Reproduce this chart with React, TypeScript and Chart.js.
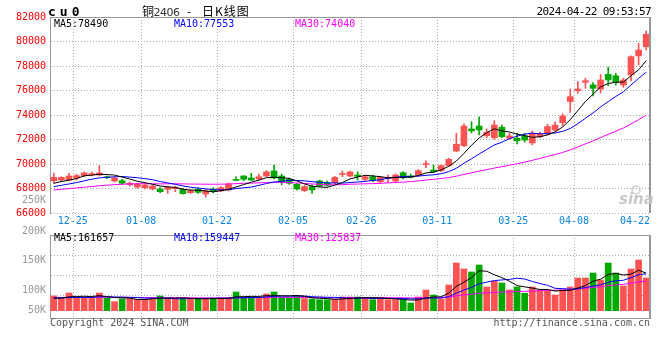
import React, { useEffect, useRef } from 'react';
import { Chart, registerables } from 'chart.js';

Chart.register(...registerables);

// ---- data ----
const dates = ['12-21','12-22','12-25','12-26','12-27','12-28','12-29','01-02','01-03','01-04','01-05','01-08','01-09','01-10','01-11','01-12','01-15','01-16','01-17','01-18','01-19','01-22','01-23','01-24','01-25','01-26','01-29','01-30','01-31','02-01','02-02','02-05','02-06','02-07','02-08','02-19','02-20','02-21','02-22','02-23','02-26','02-27','02-28','02-29','03-01','03-04','03-05','03-06','03-07','03-08','03-11','03-12','03-13','03-14','03-15','03-18','03-19','03-20','03-21','03-22','03-25','03-26','03-27','03-28','03-29','04-01','04-02','04-03','04-08','04-09','04-10','04-11','04-12','04-15','04-16','04-17','04-18','04-19','04-22'];

const opens = [68640,68690,68690,68860,69050,69100,69100,68960,68610,68640,
  68310,68120,68070,67960,67960,67930,67990,67930,67660,67930,
  67550,67960,67800,67880,68710,69020,68860,68780,69020,69430,
  69020,68750,68340,67820,68150,68610,68470,68470,69150,69020,
  69100,68750,68960,68560,68800,68610,69290,69020,69100,69950,
  69510,69460,69870,71060,71500,72860,73100,72310,72150,73000,
  72100,72100,72290,71720,72230,72450,72770,73370,75100,75980,
  76670,76450,76120,77320,77200,76450,77270,78820,79570];

const highs = [69240,68960,69240,69160,69350,69350,69870,69020,68960,68750,
  68530,68450,68430,68290,68070,68200,68200,68010,67930,68050,
  67950,68070,68150,68450,68960,69050,69240,69180,69460,69920,
  69180,68860,68430,68290,68290,68690,68610,69000,69430,69430,
  69370,69050,69100,69000,69100,69190,69370,69180,69550,70250,
  69920,69920,70460,72500,73270,73450,73860,72860,73530,73180,
  72510,72500,72510,72700,72600,73240,73450,74100,76120,76720,
  77000,76640,77300,77900,77400,77000,78840,79850,80860];

const lows = [68420,68560,68640,68690,68960,69020,69020,68800,68530,68340,
  68200,68020,67960,67880,67660,67600,67740,67530,67600,67600,
  67280,67660,67740,67800,68640,68640,68640,68690,68960,68780,
  68290,68340,67880,67740,67590,68150,68200,68400,68960,68960,
  68690,68640,68550,68420,68470,68470,68780,68860,69000,69700,
  69290,69370,69790,71000,71420,72540,72370,72150,72010,72150,
  72000,71630,71800,71560,72150,72370,72700,73100,74220,75770,
  76180,75550,75800,76390,76450,76260,76800,78080,79300];

const closes = [68910,68910,69020,69050,69270,69210,69270,68880,68860,68430,
  68430,68370,68290,68200,67740,68100,68100,67580,67820,67690,
  67800,67740,68070,68370,68660,68750,68690,68960,69350,68860,
  68510,68430,67960,68150,67880,68200,68260,68910,69180,69350,
  68990,68960,68640,68900,68910,69100,68910,68910,69460,69980,
  69370,69870,70380,71610,73100,72700,72780,72590,73180,72230,
  72290,71900,71960,72510,72450,73050,73180,73920,75500,76120,
  76800,76180,76860,76860,76670,76860,78760,79300,80590];

const volumes = [63400,56000,76300,57600,57600,57600,76300,53400,38900,50400,
  51900,48900,48900,57600,63400,51900,50400,53400,48900,51900,
  54000,53400,54800,54800,80600,59100,59100,53400,72000,80600,
  57600,54800,63400,51900,50400,47400,47400,48900,59100,59100,
  59100,54800,47400,56000,47400,47400,44800,33200,59100,89200,
  67700,50400,110800,205600,179800,166800,197000,102200,128000,119400,
  89200,102200,75000,102200,89200,89200,67700,89200,102200,141000,
  141000,162500,132300,205600,162500,106500,179800,218600,141000];

// sessions before the visible window (estimated from where the MA lines start)
const priorCloses = [67300,67250,67400,67550,67500,67380,67480,67600,67520,67650,
  67900,68100,68250,68150,67950,67850,68000,68120,67980,67970,
  67800,67950,67900,67850,67875,68200,68400,68450,68165];
const priorVolumes = [55000,60000,62000,58000,54000,57000,63000,59000,56000,52000,
  60000,58000,61000,57000,55000,59000,62000,56000,58000,60000,
  58000,55000,57000,54000,56500,50000,52000,49000,53100];

const dateTicks = ['12-25','01-08','01-22','02-05','02-26','03-11','03-25','04-08','04-22'];
const priceTickValues = [66000,68000,70000,72000,74000,76000,78000,80000,82000];
const volTickLabels = ['250K','200K','150K','100K','50K'];
const maPeriods = [5, 10, 30];
const maPriceValues = [78490, 77553, 74040];
const maVolValues = [161657, 159447, 125837];
const volGridValues = [64700, 150900, 237100];
const titleParts = ['铜', '2406', '-', '日K线图'];

// ---- styles ----
const UP = '#ff5252';
const DOWN = '#00a800';
const MA_COLORS = ['#000000', '#0000ff', '#ff00ff'];
const GRID = '#aaaaaa';
const FRAME = '#999999';
const MONO = '"DejaVu Sans Mono", monospace';
const CJK = '"Noto Sans CJK SC", sans-serif';

function movingAverage(series: number[], prior: number[], n: number): number[] {
  const all = prior.concat(series);
  return series.map((_, i) => {
    const end = prior.length + i;
    let s = 0;
    for (let j = end - n + 1; j <= end; j++) s += all[j];
    return Math.round(s / n);
  });
}

const candleColors = closes.map((c, i) => (c >= opens[i] ? UP : DOWN));

function text(ctx: CanvasRenderingContext2D, s: string, x: number, y: number, color: string, font: string, align: CanvasTextAlign = 'left', baseline: CanvasTextBaseline = 'middle', spacing = '0px') {
  ctx.save();
  ctx.font = font;
  ctx.fillStyle = color;
  ctx.textAlign = align;
  ctx.textBaseline = baseline;
  (ctx as any).letterSpacing = spacing;
  ctx.fillText(s, x, y);
  ctx.restore();
}

function dateLinePixels(chart: any): { label: string; x: number }[] {
  const a = chart.chartArea;
  const xs = chart.scales.x;
  const slot = (a.right - a.left) / dates.length;
  return dateTicks.map((d) => ({ label: d, x: xs.getPixelForValue(dates.indexOf(d)) + slot / 2 }));
}

function drawDateGrid(chart: any) {
  const { ctx, chartArea: a } = chart;
  ctx.save();
  ctx.strokeStyle = GRID;
  ctx.lineWidth = 1;
  ctx.setLineDash([1, 2]);
  dateLinePixels(chart).forEach(({ x }) => {
    if (x > a.right - 2) return;
    const px = Math.round(x) + 0.5;
    ctx.beginPath();
    ctx.moveTo(px, a.top);
    ctx.lineTo(px, a.bottom);
    ctx.stroke();
  });
  ctx.restore();
}

const pricePlugin = {
  id: 'priceDecor',
  beforeDatasetsDraw(chart: any) {
    drawDateGrid(chart);
  },
  afterDraw(chart: any) {
    const { ctx, chartArea: a } = chart;
    ctx.save();
    ctx.fillStyle = FRAME;
    ctx.fillRect(a.left, Math.round(a.top), a.right - a.left + 1, 1);
    ctx.fillRect(Math.round(a.right) - 1, Math.round(a.top), 2, a.bottom - a.top);
    ctx.restore();

    // header
    text(ctx, 'cu0', 48, 16, '#000', `bold 13px ${MONO}`, 'left', 'alphabetic', '4px');
    text(ctx, titleParts[0], 142, 15.5, '#000', `12px ${CJK}`, 'left', 'alphabetic');
    text(ctx, titleParts[1], 153.5, 15.5, '#333', `11px "DejaVu Sans"`, 'left', 'alphabetic', '-0.5px');
    text(ctx, titleParts[2], 187, 15.5, '#000', `12px ${CJK}`, 'left', 'alphabetic');
    text(ctx, titleParts[3], 202, 15.5, '#000', `12px ${CJK}`, 'left', 'alphabetic', '1px');
    text(ctx, '2024-04-22 09:53:57', 651, 15, '#000', `11px ${MONO}`, 'right', 'alphabetic', '-0.6px');

    // MA labels
    const maX = [54, 174, 295];
    maPeriods.forEach((p, i) => text(ctx, `MA${p}:${maPriceValues[i]}`, maX[i], 24.5, MA_COLORS[i], `10px ${MONO}`));

    // stray volume label from the source
    text(ctx, volTickLabels[0], 46, 200, '#999', `10px ${MONO}`, 'right');

    // date labels
    ctx.save();
    ctx.font = `10px ${MONO}`;
    dateLinePixels(chart).forEach(({ label, x }) => {
      const w = ctx.measureText(label).width;
      let cx = x;
      if (cx + w / 2 > a.right) cx = a.right - w / 2;
      text(ctx, label, cx, 221, '#0a84e0', `10px ${MONO}`, 'center');
    });
    ctx.restore();

    // watermark
    ctx.save();
    ctx.strokeStyle = 'rgba(200,200,200,0.9)';
    ctx.lineWidth = 1.5;
    ctx.beginPath();
    ctx.arc(636, 190, 4, 0, Math.PI * 2);
    ctx.stroke();
    ctx.restore();
    text(ctx, 'sina', 619, 204, 'rgba(195,195,195,0.9)', 'italic bold 15px "DejaVu Sans"', 'left', 'alphabetic');
  },
};

const volPlugin = {
  id: 'volDecor',
  beforeDatasetsDraw(chart: any) {
    drawDateGrid(chart);
  },
  afterDraw(chart: any) {
    const { ctx, chartArea: a } = chart;
    ctx.save();
    ctx.fillStyle = FRAME;
    ctx.fillRect(a.left, Math.round(a.top), a.right - a.left + 1, 1);
    ctx.fillRect(a.left, Math.round(a.bottom), a.right - a.left + 1, 1);
    ctx.fillRect(Math.round(a.right) - 1, Math.round(a.top), 2, a.bottom - a.top);
    ctx.restore();

    const labelY = [5, 34.5, 64.8, 84.5];
    volTickLabels.slice(1).forEach((l, i) => text(ctx, l, 46, labelY[i], '#999', `10px ${MONO}`, 'right'));

    const maX = [54, 174, 295];
    maPeriods.forEach((p, i) => text(ctx, `MA${p}:${maVolValues[i]}`, maX[i], 12, MA_COLORS[i], `10px ${MONO}`));

    text(ctx, 'Copyright 2024 SINA.COM', 50, 97.5, '#555', `10px ${MONO}`);
    text(ctx, 'http://finance.sina.com.cn', 650, 97.7, '#555', `10px ${MONO}`, 'right');
  },
};

export default function App() {
  const priceRef = useRef<HTMLCanvasElement>(null);
  const volRef = useRef<HTMLCanvasElement>(null);

  useEffect(() => {
    const maLines = (series: number[], prior: number[]) =>
      maPeriods.map((p, i) => ({
        type: 'line' as const,
        label: `MA${p}`,
        data: movingAverage(series, prior, p),
        borderColor: MA_COLORS[i],
        borderWidth: 1,
        pointRadius: 0,
        tension: 0,
        order: 0,
      }));

    const priceChart = new Chart(priceRef.current as HTMLCanvasElement, {
      type: 'bar',
      data: {
        labels: dates,
        datasets: [
          ...maLines(closes, priorCloses),
          {
            type: 'bar',
            label: 'wick',
            data: lows.map((l, i) => [l, highs[i]]),
            backgroundColor: candleColors,
            barThickness: 1,
            grouped: false,
            order: 2,
          } as any,
          {
            type: 'bar',
            label: 'body',
            data: opens.map((o, i) => [o, closes[i]]),
            backgroundColor: candleColors,
            barThickness: 6,
            minBarLength: 1,
            grouped: false,
            order: 1,
          } as any,
        ],
      },
      options: {
        animation: false,
        responsive: false,
        devicePixelRatio: 1,
        events: [],
        layout: { padding: { left: 0, right: 10, top: 17, bottom: 13 } },
        plugins: { legend: { display: false }, tooltip: { enabled: false } },
        scales: {
          x: { display: false, offset: true },
          y: {
            min: 66000,
            max: 82000,
            afterBuildTicks: (scale: any) => {
              scale.ticks = priceTickValues.map((v) => ({ value: v }));
            },
            afterFit: (scale: any) => {
              scale.width = 50;
            },
            ticks: {
              color: '#ff0000',
              font: { family: 'DejaVu Sans Mono', size: 10 },
              padding: 4,
              callback: (v: any) => String(v),
            },
            grid: { color: GRID, drawTicks: false },
            border: { display: true, color: FRAME, width: 1, dash: [1, 2] },
          },
        },
      } as any,
      plugins: [pricePlugin],
    });

    const volChart = new Chart(volRef.current as HTMLCanvasElement, {
      type: 'bar',
      data: {
        labels: dates,
        datasets: [
          ...maLines(volumes, priorVolumes),
          {
            type: 'bar',
            label: 'volume',
            data: volumes,
            backgroundColor: candleColors,
            barThickness: 6,
            order: 1,
          } as any,
        ],
      },
      options: {
        animation: false,
        responsive: false,
        devicePixelRatio: 1,
        events: [],
        layout: { padding: { left: 0, right: 10, top: 9, bottom: 42 } },
        plugins: { legend: { display: false }, tooltip: { enabled: false } },
        scales: {
          x: { display: false, offset: true },
          y: {
            min: -31500,
            max: 326300,
            afterBuildTicks: (scale: any) => {
              scale.ticks = volGridValues.map((v) => ({ value: v }));
            },
            afterFit: (scale: any) => {
              scale.width = 50;
            },
            ticks: { display: false },
            grid: { color: GRID, drawTicks: false },
            border: { display: true, color: FRAME, width: 1, dash: [1, 2] },
          },
        },
      } as any,
      plugins: [volPlugin],
    });

    return () => {
      priceChart.destroy();
      volChart.destroy();
    };
  }, []);

  return (
    <div style={{ position: 'absolute', left: 0, top: 0, width: 660, height: 360, background: '#fff' }}>
      <canvas ref={priceRef} width={660} height={226} style={{ position: 'absolute', left: 0, top: 0, width: 660, height: 226 }} />
      <canvas ref={volRef} width={660} height={134} style={{ position: 'absolute', left: 0, top: 226, width: 660, height: 134 }} />
    </div>
  );
}
